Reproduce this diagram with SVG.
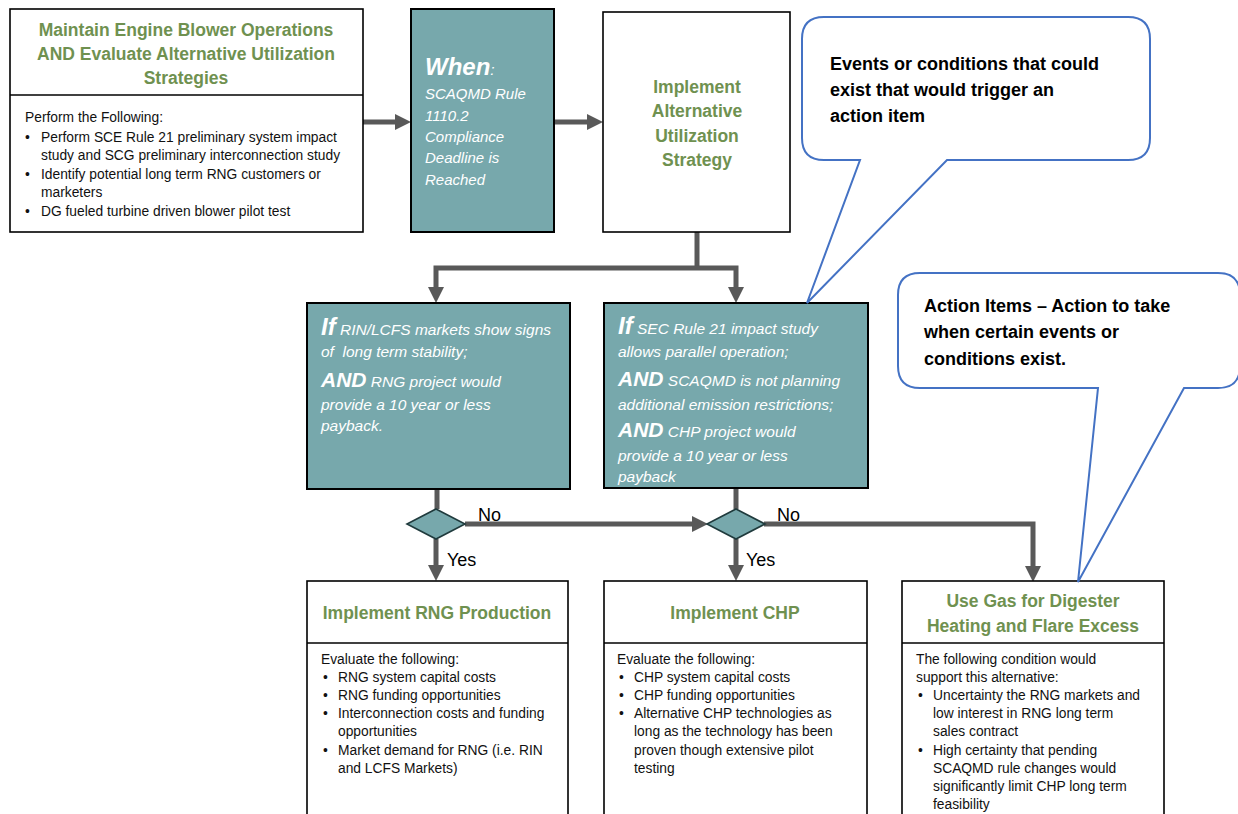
<svg xmlns="http://www.w3.org/2000/svg" width="1238" height="814" viewBox="0 0 1238 814">
<style>
.box{fill:#fff;stroke:#000;stroke-width:1.6}
.teal{fill:#77A8AC;stroke:#000;stroke-width:2}
.ttl{font-family:"Liberation Sans",Arial,sans-serif;font-weight:bold;font-size:17.5px;fill:#6F9150;text-anchor:middle}
.bd{font-family:"Liberation Sans",Arial,sans-serif;font-size:13.8px;fill:#111}
.wt{font-family:"Liberation Sans",Arial,sans-serif;font-style:italic;font-size:15.5px;fill:#fff}
.wn{font-size:15px}
.big{font-weight:bold;font-size:24px}
.and{font-weight:bold;font-size:21px}
.co{font-family:"Liberation Sans",Arial,sans-serif;font-weight:bold;font-size:18px;fill:#000}
.lbl{font-family:"Liberation Sans",Arial,sans-serif;font-size:18px;fill:#000}
.con{fill:none;stroke:#595959;stroke-width:5}
.call{fill:#fff;stroke:#4472C4;stroke-width:2}
.dia{fill:#77A8AC;stroke:#1F3A3C;stroke-width:1.6}
</style>
<defs>
<marker id="ah" markerUnits="userSpaceOnUse" markerWidth="16" markerHeight="16" viewBox="0 0 16 16" refX="6" refY="8" orient="auto-start-reverse"><path d="M0,0 L16,8 L0,16 z" fill="#595959"/></marker>
</defs>
<rect width="1238" height="814" fill="#fff"/>

<g id="connectors">
<path class="con" d="M363,122 H401" marker-end="url(#ah)"/>
<path class="con" d="M554,122 H593" marker-end="url(#ah)"/>
<path class="con" d="M697,232 V268"/>
<path class="con" d="M436,293 V268 H736 V293" marker-start="url(#ah)" marker-end="url(#ah)"/>
<path class="con" d="M437,489 V509"/>
<path class="con" d="M736,488 V509"/>
<path class="con" d="M465,524 H698" marker-end="url(#ah)"/>
<path class="con" d="M436,539 V571" marker-end="url(#ah)"/>
<path class="con" d="M736,539 V571" marker-end="url(#ah)"/>
<path class="con" d="M764,524 H1033 V572" marker-end="url(#ah)"/>
<text class="lbl" x="478" y="521">No</text>
<text class="lbl" x="447" y="566">Yes</text>
<text class="lbl" x="777" y="521">No</text>
<text class="lbl" x="746" y="566">Yes</text>
</g>

<g id="maintain">
<rect class="box" x="10" y="9" width="353" height="223"/>
<line x1="10" y1="95" x2="363" y2="95" stroke="#000" stroke-width="1.6"/>
<text class="ttl" x="186" y="36">Maintain Engine Blower Operations</text>
<text class="ttl" x="186" y="60">AND Evaluate Alternative Utilization</text>
<text class="ttl" x="186" y="84">Strategies</text>
<text class="bd" x="25" y="122">Perform the Following:</text>
<text class="bd" x="25" y="142">•</text><text class="bd" x="41" y="142">Perform SCE Rule 21 preliminary system impact</text>
<text class="bd" x="41" y="160">study and SCG preliminary interconnection study</text>
<text class="bd" x="25" y="179">•</text><text class="bd" x="41" y="179">Identify potential long term RNG customers or</text>
<text class="bd" x="41" y="197">marketers</text>
<text class="bd" x="25" y="216">•</text><text class="bd" x="41" y="216">DG fueled turbine driven blower pilot test</text>
</g>

<g id="when">
<rect class="teal" x="411" y="9" width="143" height="223"/>
<text class="wt" x="425" y="75"><tspan class="big">When</tspan>:</text>
<text class="wt wn" x="425" y="99">SCAQMD Rule</text>
<text class="wt wn" x="425" y="121">1110.2</text>
<text class="wt wn" x="425" y="142">Compliance</text>
<text class="wt wn" x="425" y="163">Deadline is</text>
<text class="wt wn" x="425" y="185">Reached</text>
</g>

<g id="implement">
<rect class="box" x="603" y="12" width="187" height="220"/>
<text class="ttl" x="697" y="93">Implement</text>
<text class="ttl" x="697" y="117">Alternative</text>
<text class="ttl" x="697" y="142">Utilization</text>
<text class="ttl" x="697" y="166">Strategy</text>
</g>

<g id="if-rng">
<rect class="teal" x="307" y="303" width="263" height="186"/>
<text class="wt" x="321" y="335"><tspan class="big">If</tspan> RIN/LCFS markets show signs</text>
<text class="wt" x="321" y="357" xml:space="preserve">of  long term stability;</text>
<text class="wt" x="321" y="387"><tspan class="and">AND</tspan> RNG project would</text>
<text class="wt" x="321" y="410">provide a 10 year or less</text>
<text class="wt" x="321" y="431">payback.</text>
</g>

<g id="if-chp">
<rect class="teal" x="604" y="303" width="264" height="185"/>
<text class="wt" x="618" y="334"><tspan class="big">If</tspan> SEC Rule 21 impact study</text>
<text class="wt" x="618" y="357">allows parallel operation;</text>
<text class="wt" x="618" y="386"><tspan class="and">AND</tspan> SCAQMD is not planning</text>
<text class="wt" x="618" y="410">additional emission restrictions;</text>
<text class="wt" x="618" y="437"><tspan class="and">AND</tspan> CHP project would</text>
<text class="wt" x="618" y="461">provide a 10 year or less</text>
<text class="wt" x="618" y="482">payback</text>
</g>

<g id="decision-rng"><polygon class="dia" points="436,509 465,524 436,539 407,524"/></g>
<g id="decision-chp"><polygon class="dia" points="736,509 765,524 736,539 707,524"/></g>

<g id="rng">
<rect class="box" x="307" y="581" width="261" height="250"/>
<line x1="307" y1="643" x2="568" y2="643" stroke="#000" stroke-width="1.6"/>
<text class="ttl" x="437" y="619">Implement RNG Production</text>
<text class="bd" x="321" y="664">Evaluate the following:</text>
<text class="bd" x="323" y="682">•</text><text class="bd" x="338" y="682">RNG system capital costs</text>
<text class="bd" x="323" y="700">•</text><text class="bd" x="338" y="700">RNG funding opportunities</text>
<text class="bd" x="323" y="718">•</text><text class="bd" x="338" y="718">Interconnection costs and funding</text>
<text class="bd" x="338" y="736">opportunities</text>
<text class="bd" x="323" y="755">•</text><text class="bd" x="338" y="755">Market demand for RNG (i.e. RIN</text>
<text class="bd" x="338" y="773">and LCFS Markets)</text>
</g>

<g id="chp">
<rect class="box" x="604" y="581" width="263" height="250"/>
<line x1="604" y1="643" x2="867" y2="643" stroke="#000" stroke-width="1.6"/>
<text class="ttl" x="735" y="619">Implement CHP</text>
<text class="bd" x="617" y="664">Evaluate the following:</text>
<text class="bd" x="619" y="682">•</text><text class="bd" x="634" y="682">CHP system capital costs</text>
<text class="bd" x="619" y="700">•</text><text class="bd" x="634" y="700">CHP funding opportunities</text>
<text class="bd" x="619" y="718">•</text><text class="bd" x="634" y="718">Alternative CHP technologies as</text>
<text class="bd" x="634" y="736">long as the technology has been</text>
<text class="bd" x="634" y="755">proven though extensive pilot</text>
<text class="bd" x="634" y="773">testing</text>
</g>

<g id="flare">
<rect class="box" x="902" y="581" width="262" height="250"/>
<line x1="902" y1="643" x2="1164" y2="643" stroke="#000" stroke-width="1.6"/>
<text class="ttl" x="1033" y="607">Use Gas for Digester</text>
<text class="ttl" x="1033" y="632">Heating and Flare Excess</text>
<text class="bd" x="916" y="664">The following condition would</text>
<text class="bd" x="916" y="682">support this alternative:</text>
<text class="bd" x="918" y="700">•</text><text class="bd" x="933" y="700">Uncertainty the RNG markets and</text>
<text class="bd" x="933" y="718">low interest in RNG long term</text>
<text class="bd" x="933" y="736">sales contract</text>
<text class="bd" x="918" y="755">•</text><text class="bd" x="933" y="755">High certainty that pending</text>
<text class="bd" x="933" y="773">SCAQMD rule changes would</text>
<text class="bd" x="933" y="791">significantly limit CHP long term</text>
<text class="bd" x="933" y="809">feasibility</text>
</g>

<g id="callout-events">
<path class="call" d="M824,17 H1128 Q1150,17 1150,39 V138 Q1150,160 1128,160 H947 L807,303 L860,160 H824 Q802,160 802,138 V39 Q802,17 824,17 Z"/>
<text class="co" x="830" y="70">Events or conditions that could</text>
<text class="co" x="830" y="96">exist that would trigger an</text>
<text class="co" x="830" y="122">action item</text>
</g>

<g id="callout-actions">
<path class="call" d="M920,273 H1218 Q1240,273 1240,295 V366 Q1240,388 1218,388 H1184 L1078,582 L1098,388 H920 Q898,388 898,366 V295 Q898,273 920,273 Z"/>
<text class="co" x="924" y="312">Action Items – Action to take</text>
<text class="co" x="924" y="338">when certain events or</text>
<text class="co" x="924" y="365">conditions exist.</text>
</g>
</svg>
